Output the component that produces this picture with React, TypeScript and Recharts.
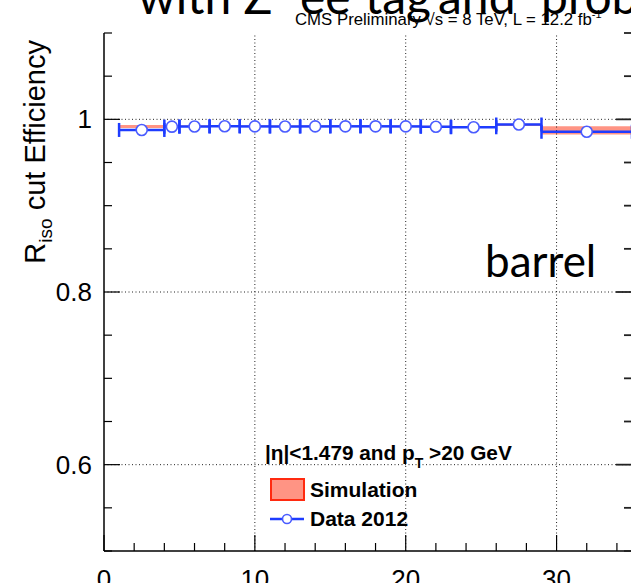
import {
  ErrorBar,
  Label,
  Legend,
  ReferenceArea,
  ReferenceLine,
  Scatter,
  ScatterChart,
  XAxis,
  YAxis
} from 'recharts';

// pT bins (GeV)
const binLow = [1, 4, 5, 7, 9, 11, 13, 15, 17, 19, 21, 23, 26, 29];
const binHigh = [4, 5, 7, 9, 11, 13, 15, 17, 19, 21, 23, 26, 29, 35];

// Data 2012 efficiency per bin
const dataEff = [
  0.9877, 0.9915, 0.9917, 0.992, 0.9918, 0.9917, 0.9918, 0.9919, 0.9919, 0.9918, 0.9914,
  0.9908, 0.994, 0.9856
];

// simulation efficiency and its uncertainty per bin
const simEff = [
  0.9917, 0.9925, 0.9922, 0.9922, 0.9921, 0.992, 0.992, 0.992, 0.9919, 0.9918, 0.9916, 0.9912,
  0.9936, 0.9873
];
const simErr = [
  0.0018, 0.001, 0.0008, 0.0008, 0.0008, 0.0008, 0.0008, 0.0008, 0.0008, 0.0008, 0.0009,
  0.0009, 0.0012, 0.0048
];

const xTicks = [0, 2, 4, 6, 8, 10, 12, 14, 16, 18, 20, 22, 24, 26, 28, 30, 32, 34];
const xMajor = [0, 10, 20, 30];
const yTicks = [0.5, 0.55, 0.6, 0.65, 0.7, 0.75, 0.8, 0.85, 0.9, 0.95, 1, 1.05, 1.1];
const yMajor = [0.6, 0.8, 1];

const X_DOMAIN = [0, 35];
const Y_DOMAIN = [0.5, 1.1];

// the frame runs a pixel past the visible page on the right
const CHART_W = 640;

const BLUE = '#1e3cff';
const RED = '#ff2a10';
const SIM_FILL = '#ff9484';
const HELV = '"Liberation Sans", Arial, sans-serif';
const GILL = 'Lato, "Open Sans", sans-serif';

const isMajor = (v: number, list: number[]) => list.some((m) => Math.abs(m - v) < 1e-6);

const points = binLow.map((lo, i) => ({
  x: (lo + binHigh[i]) / 2,
  y: dataEff[i],
  xerr: (binHigh[i] - lo) / 2
}));

// ROOT style ticks: drawn inwards from the frame
const BottomTick = (props: any) => {
  const { x, y, payload } = props;
  const major = isMajor(payload.value, xMajor);
  return (
    <g>
      <line x1={x} y1={y} x2={x} y2={y - (major ? 16 : 8)} stroke="#000" strokeWidth={1.2} />
      {major && (
        <text x={x} y={y + 37} textAnchor="middle" fontFamily={HELV} fontSize={26} fill="#000">
          {payload.value}
        </text>
      )}
    </g>
  );
};

const TopTick = (props: any) => {
  const { x, y, payload } = props;
  const major = isMajor(payload.value, xMajor);
  return <line x1={x} y1={y} x2={x} y2={y + (major ? 16 : 8)} stroke="#000" strokeWidth={1.2} />;
};

const LeftTick = (props: any) => {
  const { x, y, payload } = props;
  const major = isMajor(payload.value, yMajor);
  return (
    <g>
      <line x1={x} y1={y} x2={x + (major ? 16 : 8)} y2={y} stroke="#000" strokeWidth={1.2} />
      {major && (
        <text x={x - 12} y={y + 9} textAnchor="end" fontFamily={HELV} fontSize={26} fill="#000">
          {String(payload.value)}
        </text>
      )}
    </g>
  );
};

const RightTick = (props: any) => {
  const { x, y, payload } = props;
  const major = isMajor(payload.value, yMajor);
  return <line x1={x} y1={y} x2={x - (major ? 16 : 8)} y2={y} stroke="#222" strokeWidth={1.8} />;
};

const DataMarker = (props: any) => (
  <circle cx={props.cx} cy={props.cy} r={5.5} fill="#fff" stroke="#4a5cff" strokeWidth={1.6} />
);

const NoMarker = () => null;

const YTitle = (props: any) => {
  const vb = props.viewBox;
  const x = vb.x + 45;
  const y = vb.y + 7;
  return (
    <text
      x={x}
      y={y}
      transform={`rotate(-90 ${x} ${y})`}
      textAnchor="end"
      fontFamily={HELV}
      fontSize={29}
      fill="#000"
    >
      R
      <tspan fontSize={19} dy={7}>
        iso
      </tspan>
      <tspan dy={-7}> cut Efficiency</tspan>
    </text>
  );
};

const LegendBox = () => (
  <svg width={280} height={100} style={{ display: 'block' }}>
    <text x={3} y={19} fontFamily={HELV} fontWeight="bold" fontSize={20.8} fill="#000">
      |η|&lt;1.479 and p
      <tspan fontSize={14} dy={8}>
        T
      </tspan>
      <tspan dy={-8}> &gt;20 GeV</tspan>
    </text>
    <rect x={9} y={38} width={33} height={21} fill={SIM_FILL} stroke={RED} strokeWidth={2} />
    <text x={48} y={56} fontFamily={HELV} fontWeight="bold" fontSize={21} fill="#000">
      Simulation
    </text>
    <line x1={8} y1={78} x2={42} y2={78} stroke={BLUE} strokeWidth={2.5} />
    <circle cx={25} cy={78} r={4.5} fill="#fff" stroke="#4a5cff" strokeWidth={1.6} />
    <text x={48} y={85} fontFamily={HELV} fontWeight="bold" fontSize={21} fill="#000">
      Data 2012
    </text>
  </svg>
);

export default function App() {
  return (
    <div
      style={{
        position: 'fixed',
        left: 0,
        top: 0,
        width: 631,
        height: 583,
        overflow: 'hidden',
        background: '#fff'
      }}
    >
      <ScatterChart width={CHART_W} height={583} margin={{ top: 33, right: 0, bottom: 0, left: 0 }}>
        <XAxis
          xAxisId="b"
          dataKey="x"
          type="number"
          domain={X_DOMAIN}
          allowDataOverflow
          ticks={xTicks}
          interval={0}
          tickSize={0}
          tickMargin={0}
          tickLine={false}
          height={32}
          axisLine={{ stroke: '#000', strokeWidth: 1.5 }}
          tick={(p: any) => <BottomTick {...p} />}
        />
        <XAxis
          xAxisId="t"
          orientation="top"
          dataKey="x"
          type="number"
          domain={X_DOMAIN}
          allowDataOverflow
          ticks={xTicks}
          interval={0}
          tickSize={0}
          tickMargin={0}
          tickLine={false}
          height={0}
          axisLine={{ stroke: '#000', strokeWidth: 1.5 }}
          tick={(p: any) => <TopTick {...p} />}
        />
        <YAxis
          yAxisId="l"
          dataKey="y"
          type="number"
          domain={Y_DOMAIN}
          allowDataOverflow
          ticks={yTicks}
          interval={0}
          tickSize={0}
          tickMargin={0}
          tickLine={false}
          width={104}
          axisLine={{ stroke: '#000', strokeWidth: 1.5 }}
          tick={(p: any) => <LeftTick {...p} />}
        >
          <Label content={(p: any) => <YTitle {...p} />} />
        </YAxis>
        <YAxis
          yAxisId="r"
          orientation="right"
          dataKey="y"
          type="number"
          domain={Y_DOMAIN}
          allowDataOverflow
          ticks={yTicks}
          interval={0}
          tickSize={0}
          tickMargin={0}
          tickLine={false}
          width={8}
          axisLine={{ stroke: '#000', strokeWidth: 1.5 }}
          tick={(p: any) => <RightTick {...p} />}
        />

        {xMajor
          .filter((v) => v > 0)
          .map((v) => (
            <ReferenceLine
              key={`gx${v}`}
              xAxisId="b"
              yAxisId="l"
              x={v}
              stroke="#222"
              strokeDasharray="1 2.5"
            />
          ))}
        {yMajor.map((v) => (
          <ReferenceLine
            key={`gy${v}`}
            xAxisId="b"
            yAxisId="l"
            y={v}
            stroke="#222"
            strokeDasharray="1 2.5"
          />
        ))}

        {binLow.map((lo, i) => (
          <ReferenceArea
            key={`sim${i}`}
            xAxisId="b"
            yAxisId="l"
            x1={lo}
            x2={binHigh[i]}
            y1={simEff[i] - simErr[i]}
            y2={simEff[i] + simErr[i]}
            fill={SIM_FILL}
            fillOpacity={1}
            stroke="none"
          />
        ))}

        {/* keeps the mirrored top/right frame axes bound to the same points */}
        <Scatter
          xAxisId="t"
          yAxisId="r"
          data={points}
          shape={NoMarker}
          isAnimationActive={false}
          legendType="none"
        />

        <Scatter
          xAxisId="b"
          yAxisId="l"
          data={points}
          shape={(p: any) => <DataMarker {...p} />}
          isAnimationActive={false}
        >
          <ErrorBar
            dataKey="xerr"
            direction="x"
            width={7}
            stroke={BLUE}
            strokeWidth={2.5}
            isAnimationActive={false}
          />
        </Scatter>

        <Legend
          layout="vertical"
          align="center"
          verticalAlign="middle"
          wrapperStyle={{ left: 262, top: 441, width: 280 }}
          content={() => <LegendBox />}
        />
      </ScatterChart>

      <svg
        width={631}
        height={583}
        style={{ position: 'absolute', left: 0, top: 0, pointerEvents: 'none' }}
      >
        <text fontFamily={GILL} fontSize={48} fill="#000" y={14}>
          <tspan x={138}>with Z</tspan>
          <tspan x={268} dy={-13} fontFamily='"DejaVu Sans", sans-serif' fontSize={36}>
            →
          </tspan>
          <tspan x={300} dy={13}>
            ee
          </tspan>
          <tspan x={365}>tag</tspan>
          <tspan x={438}>and</tspan>
          <tspan x={541}>probe</tspan>
        </text>
        <text x={295} y={25} fontFamily={HELV} fontSize={16.8} fill="#000">
          CMS Preliminary √s = 8 TeV, L = 12.2 fb
          <tspan fontSize={11} dy={-7}>
            -1
          </tspan>
        </text>
        <text x={485} y={277} fontFamily={GILL} fontSize={44} fill="#000">
          barrel
        </text>
      </svg>
    </div>
  );
}
